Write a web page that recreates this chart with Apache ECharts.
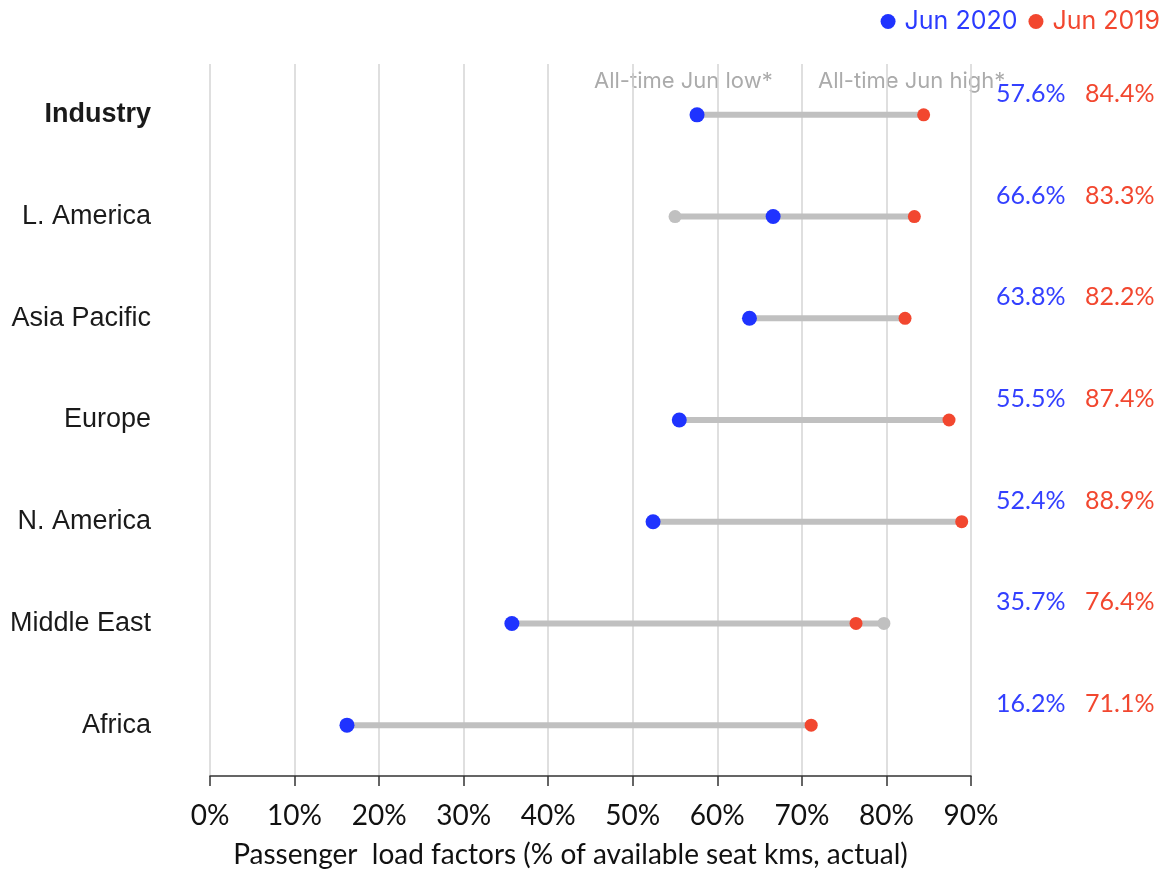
<!DOCTYPE html>
<html>
<head>
<meta charset="utf-8">
<script src="https://cdn.jsdelivr.net/npm/echarts@6/dist/echarts.min.js"></script>
<style>
  html, body { margin: 0; padding: 0; background: #fff; }
  #chart { width: 1171px; height: 872px; }
</style>
</head>
<body>
<div id="chart"></div>
<script>
// regions, top to bottom
var regions = ["Industry", "L. America", "Asia Pacific", "Europe", "N. America", "Middle East", "Africa"];
// passenger load factors, % of available seat kms
var jun2020 = [57.6, 66.6, 63.8, 55.5, 52.4, 35.7, 16.2];
var jun2019 = [84.4, 83.3, 82.2, 87.4, 88.9, 76.4, 71.1];
// all-time June low / high markers where they fall outside the 2020-2019 span
var allTimeLow = [null, 55.0, null, null, null, null, null];
var allTimeHigh = [null, null, null, null, null, 79.7, null];
var xTicks = [0, 10, 20, 30, 40, 50, 60, 70, 80, 90];

var BLUE = "#1f33ff";
var RED = "#f2472f";
var GREY = "#c0c0c0";
var labelFont = "Liberation Sans, Arial, sans-serif";
var numFont = "Lato, Open Sans, sans-serif";

var rangeData = regions.map(function (r, i) {
  var lo = Math.min(jun2020[i], allTimeLow[i] == null ? 999 : allTimeLow[i]);
  var hi = Math.max(jun2019[i], allTimeHigh[i] == null ? -1 : allTimeHigh[i]);
  return [i, lo, hi];
});

var chart = echarts.init(document.getElementById("chart"));

var option = {
  animation: false,
  grid: { left: 210, right: 200, top: 64, bottom: 96, outerBoundsMode: "none", containLabel: false },
  legend: {
    top: 4,
    right: 6,
    icon: "circle",
    itemWidth: 15,
    itemHeight: 15,
    itemGap: 11,
    textStyle: { fontSize: 25, fontFamily: "Inter, sans-serif", padding: [0, 0, 0, 4] },
    data: [
      { name: "Jun 2020", textStyle: { color: "#2b3bff" } },
      { name: "Jun 2019", textStyle: { color: RED } }
    ]
  },
  xAxis: {
    type: "value",
    min: 0,
    max: 90,
    interval: 10,
    axisLine: { show: true, lineStyle: { color: "#333", width: 1.5 } },
    axisTick: { show: true, length: 10, lineStyle: { color: "#333", width: 1.5 } },
    axisLabel: {
      margin: 26,
      fontSize: 28,
      color: "#111",
      fontFamily: numFont,
      formatter: function (v) { return xTicks.indexOf(v) >= 0 ? v + "%" : ""; }
    },
    splitLine: {
      show: true,
      lineStyle: { color: "#d4d4d4", width: 1.5 },
      interval: function (idx, v) { return v < 90; }
    },
    name: "Passenger  load factors (% of available seat kms, actual)",
    nameLocation: "middle",
    nameGap: 65,
    nameTextStyle: { fontSize: 28, color: "#111", fontFamily: numFont, padding: [0, 40, 0, 0] }
  },
  yAxis: [
    {
      type: "category",
      inverse: true,
      data: regions,
      axisLine: { show: false },
      axisTick: { show: false },
      axisLabel: {
        margin: 59,
        fontSize: 27,
        color: "#1a1a1a",
        fontFamily: labelFont,
        formatter: function (v) { return v === "Industry" ? "{bold|" + v + "}" : v; },
        rich: { bold: { fontWeight: "bold", fontSize: 27, fontFamily: labelFont, color: "#1a1a1a" } }
      }
    },
    {
      type: "category",
      inverse: true,
      position: "right",
      data: regions,
      axisLine: { show: false },
      axisTick: { show: false },
      axisLabel: {
        margin: 25,
        align: "left",
        padding: [0, 0, 42, 0],
        formatter: function (v, i) {
          return "{b|" + jun2020[i].toFixed(1) + "%}{r|" + jun2019[i].toFixed(1) + "%}";
        },
        rich: {
          b: { color: "#3340ff", fontSize: 25, fontFamily: numFont, width: 89 },
          r: { color: RED, fontSize: 25, fontFamily: numFont }
        }
      }
    }
  ],
  graphic: [
    { type: "text", left: 594, top: 70, style: { text: "All-time Jun low*", fill: "#ababab", font: "22px Inter, sans-serif" } },
    { type: "text", left: 818, top: 70, style: { text: "All-time Jun high*", fill: "#ababab", font: "22px Inter, sans-serif" } }
  ],
  series: [
    {
      name: "range",
      type: "custom",
      data: rangeData,
      encode: { x: [1, 2], y: 0 },
      renderItem: function (params, api) {
        var a = api.coord([api.value(1), api.value(0)]);
        var b = api.coord([api.value(2), api.value(0)]);
        return {
          type: "line",
          shape: { x1: a[0], y1: a[1], x2: b[0], y2: b[1] },
          style: { stroke: GREY, lineWidth: 6 }
        };
      },
      z: 1
    },
    {
      name: "low",
      type: "scatter",
      symbolSize: 13,
      itemStyle: { color: GREY, opacity: 1 },
      data: allTimeLow.map(function (v, i) { return v == null ? null : [v, i]; }).filter(Boolean),
      z: 2
    },
    {
      name: "high",
      type: "scatter",
      symbolSize: 13,
      itemStyle: { color: GREY, opacity: 1 },
      data: allTimeHigh.map(function (v, i) { return v == null ? null : [v, i]; }).filter(Boolean),
      z: 2
    },
    {
      name: "Jun 2019",
      type: "scatter",
      symbolSize: 13,
      itemStyle: { color: RED, opacity: 1 },
      data: jun2019.map(function (v, i) { return [v, i]; }),
      z: 3
    },
    {
      name: "Jun 2020",
      type: "scatter",
      symbolSize: 15,
      itemStyle: { color: BLUE, opacity: 1 },
      data: jun2020.map(function (v, i) { return [v, i]; }),
      z: 4
    }
  ]
};

chart.setOption(option);
</script>
</body>
</html>
